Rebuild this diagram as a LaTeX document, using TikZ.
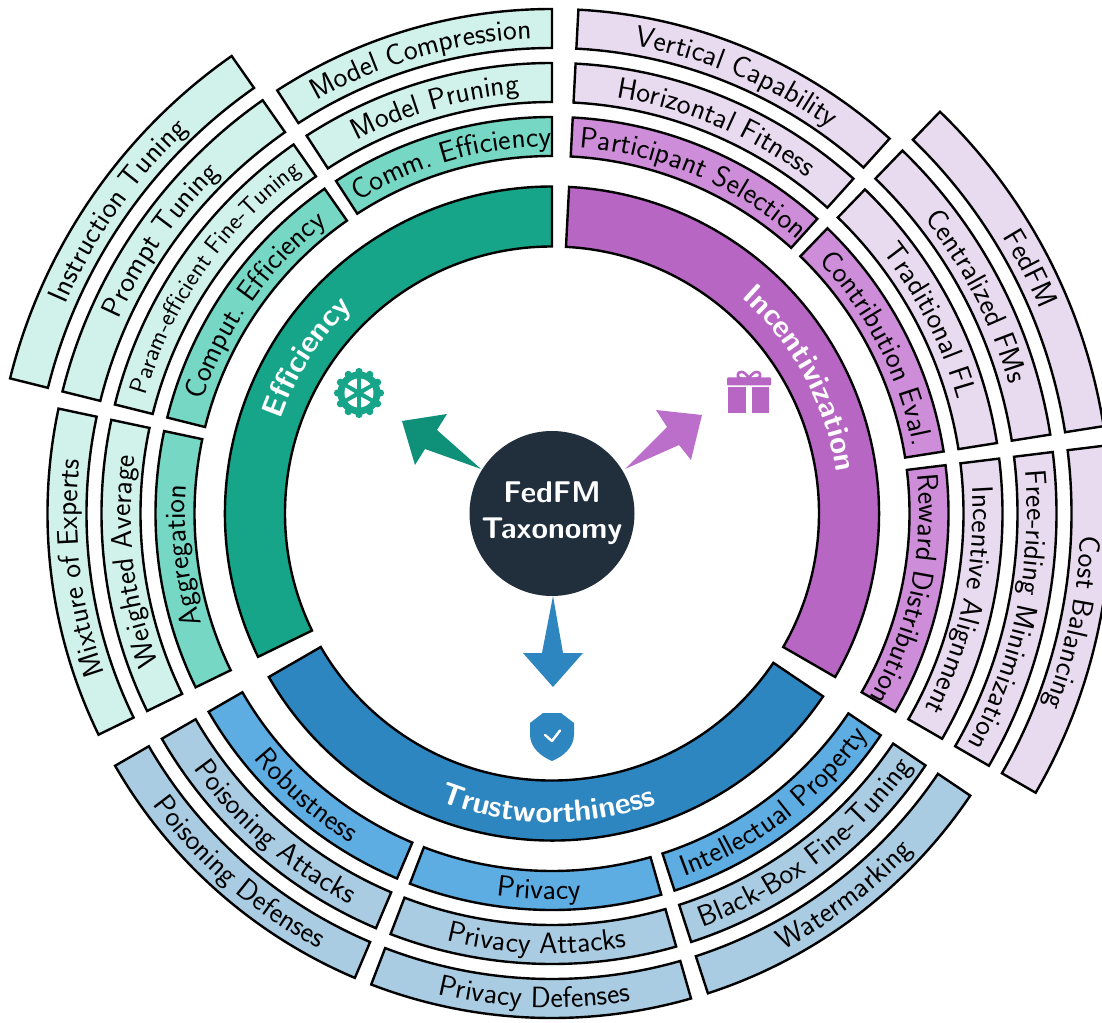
\documentclass[tikz,border=0pt]{standalone}
\usetikzlibrary{decorations.text}
\definecolor{gMain}{HTML}{17A589}
\definecolor{gMid}{HTML}{76D7C4}
\definecolor{gPale}{HTML}{D1F2EB}
\definecolor{gArrow}{HTML}{0F9078}
\definecolor{pMain}{HTML}{B766C4}
\definecolor{pMid}{HTML}{CE8DD8}
\definecolor{pPale}{HTML}{E8DAEF}
\definecolor{pArrow}{HTML}{BB6FCB}
\definecolor{bMain}{HTML}{2E86C1}
\definecolor{bMid}{HTML}{5DADE2}
\definecolor{bPale}{HTML}{A9CCE3}
\definecolor{hubCol}{HTML}{212F3D}
\tikzset{sectbox/.style={draw=black,line width=2.4pt,line join=miter}}
\newcommand\ringsect[5]{\draw[sectbox,fill=#5] (#3:#1pt) arc[start angle=#3,end angle=#4,radius=#1pt] -- (#4:#2pt) arc[start angle=#4,end angle=#3,radius=#2pt] -- cycle;}
\newcommand\rfont{\sffamily\fontsize{29.5}{33}\selectfont}
\newcommand\rsmall{\sffamily\fontsize{25}{29}\selectfont}
\newcommand\mfont{\sffamily\bfseries\fontsize{30.5}{34}\selectfont}
% baseline radius, start angle, end angle, text
\newcommand\arclabel[4]{\path[decorate,decoration={text along path,text align={align=center,left indent=7pt},text={|\rfont|#4}}] (#2:#1pt) arc[start angle=#2,end angle=#3,radius=#1pt];}
\newcommand\arcsmall[4]{\path[decorate,decoration={text along path,text align={align=center,left indent=7pt},text={|\rsmall|#4}}] (#2:#1pt) arc[start angle=#2,end angle=#3,radius=#1pt];}
\newcommand\arcmain[4]{\path[decorate,decoration={text along path,text align=center,text color=white,text={|\mfont|#4}}] (#2:#1pt) arc[start angle=#2,end angle=#3,radius=#1pt];}
\begin{document}
\begin{tikzpicture}[x=1pt,y=1pt]
\clip (-552,-508.5) rectangle (550,513.5);
\fill[white] (-552,-508.5) rectangle (550,513.5);
% main sectors
\ringsect{267}{327}{90}{206}{gMain}
\ringsect{267}{327}{87}{-30}{pMain}
\ringsect{267}{327}{-34}{-150}{bMain}
% green rings
\ringsect{357.5}{396.5}{90}{123}{gMid}
\ringsect{357.5}{396.5}{125}{166}{gMid}
\ringsect{357.5}{396.5}{168}{206}{gMid}
\ringsect{411.5}{450.5}{90}{123}{gPale}
\ringsect{411.5}{450.5}{125}{166}{gPale}
\ringsect{411.5}{450.5}{168}{206}{gPale}
\ringsect{465.5}{504.5}{90}{123}{gPale}
\ringsect{465.5}{504.5}{125}{166}{gPale}
\ringsect{465.5}{504.5}{168}{206}{gPale}
\ringsect{519.5}{558.5}{125}{166}{gPale}
% purple rings
\ringsect{357.5}{396.5}{87}{48}{pMid}
\ringsect{357.5}{396.5}{46}{9}{pMid}
\ringsect{357.5}{396.5}{7}{-30}{pMid}
\ringsect{411.5}{450.5}{87}{48}{pPale}
\ringsect{411.5}{450.5}{46}{9}{pPale}
\ringsect{411.5}{450.5}{7}{-30}{pPale}
\ringsect{465.5}{504.5}{87}{48}{pPale}
\ringsect{465.5}{504.5}{46}{9}{pPale}
\ringsect{465.5}{504.5}{7}{-30}{pPale}
\ringsect{519.5}{558.5}{46}{9}{pPale}
\ringsect{519.5}{558.5}{7}{-30}{pPale}
% blue rings
\ringsect{357.5}{396.5}{210}{247}{bMid}
\ringsect{357.5}{396.5}{249}{286}{bMid}
\ringsect{357.5}{396.5}{288}{326}{bMid}
\ringsect{411.5}{450.5}{210}{247}{bPale}
\ringsect{411.5}{450.5}{249}{286}{bPale}
\ringsect{411.5}{450.5}{288}{326}{bPale}
\ringsect{465.5}{504.5}{210}{247}{bPale}
\ringsect{465.5}{504.5}{249}{286}{bPale}
\ringsect{465.5}{504.5}{288}{326}{bPale}
% main labels
\arcmain{287}{205}{90}{Efficiency}
\arcmain{287}{87}{-30}{Incentivization}
\arcmain{309}{210}{328.5}{Trustworthiness}
% green labels
\arclabel{367}{123}{90}{Comm. Efficiency}
\arclabel{421}{123}{90}{Model Pruning}
\arclabel{475}{123}{90}{Model Compression}
\arclabel{367}{166}{125}{Comput. Efficiency}
\arcsmall{423}{166}{125}{Param-efficient Fine-Tuning}
\arclabel{475}{166}{125}{Prompt Tuning}
\arclabel{529}{166}{125}{Instruction Tuning}
\arclabel{367}{206}{168}{Aggregation}
\arclabel{421}{206}{168}{Weighted Average}
\arclabel{475}{206}{168}{Mixture of Experts}
% purple labels
\arclabel{367}{87}{48}{Participant Selection}
\arclabel{421}{87}{48}{Horizontal Fitness}
\arclabel{475}{87}{48}{Vertical Capability}
\arclabel{367}{46}{9}{Contribution Eval.}
\arclabel{421}{46}{9}{Traditional FL}
\arclabel{475}{46}{9}{Centralized FMs}
\arclabel{529}{46}{9}{FedFM}
\arclabel{367}{7}{-30}{Reward Distribution}
\arclabel{421}{7}{-30}{Incentive Alignment}
\arclabel{475}{7}{-30}{Free-riding Minimization}
\arclabel{529}{7}{-30}{Cost Balancing}
% blue labels
\arclabel{386}{210}{247}{Robustness}
\arclabel{386}{249}{286}{Privacy}
\arclabel{386}{288}{326}{Intellectual Property}
\arclabel{440}{210}{247}{Poisoning Attacks}
\arclabel{440}{249}{286}{Privacy Attacks}
\arclabel{440}{288}{326}{Black-Box Fine-Tuning}
\arclabel{494}{210}{247}{Poisoning Defenses}
\arclabel{494}{249}{286}{Privacy Defenses}
\arclabel{494}{288}{326}{Watermarking}
% arrows from the hub
\fill[gArrow] (-71,44.5) -- (-115,83.5) -- (-105,99.5) -- (-150,92.5) -- (-137,48.5) -- (-127,64.5) -- cycle;
\fill[pArrow] (73,44.5) -- (115,86.5) -- (104,103.5) -- (150,98.5) -- (139,53.5) -- (127,68.5) -- cycle;
\fill[bMain] (1,-82.5) -- (11,-139.5) -- (31,-139.5) -- (1,-173.5) -- (-29,-139.5) -- (-10,-139.5) -- cycle;
% hub
\node[circle,fill=hubCol,minimum size=165pt,inner sep=0pt,text=white,align=center,font=\sffamily\bfseries\fontsize{30}{36}\selectfont] (hub) at (0,0) {FedFM\\Taxonomy};
% gear icon
\begin{scope}[shift={(-193,120.5)}]
\foreach \a in {0,30,...,330}{\fill[gMain] (\a:21.5) circle[radius=3.6];}
\fill[gMain] (0,0) circle[radius=21.5];
\foreach \a in {0,60,...,300}{\fill[white] (\a:4.5) -- (\a+22:14.5) arc[start angle=\a+22,end angle=\a-22,radius=14.5] -- cycle;}
\end{scope}
% gift icon
\begin{scope}[shift={(200,135)}]
\fill[pMain] (-24,-35) rectangle (-6,-9);
\fill[pMain] (0,-35) rectangle (17,-9);
\fill[pMain,rounded corners=1pt] (-25,-7) rectangle (19,1);
\draw[pMain,line width=2.6pt] (-3,0) .. controls (-7,8) and (-15,9) .. (-14,2) .. controls (-13,-1) and (-7,0) .. (-3,0) .. controls (1,0) and (7,-1) .. (8,2) .. controls (9,9) and (1,8) .. (-3,0);
\end{scope}
% shield icon
\fill[bMain] (-9,-199.5) -- (9,-199.5) -- (22,-209.5) -- (22,-221) .. controls (22,-234) and (11,-243) .. (0,-247.5) .. controls (-11,-243) and (-22,-234) .. (-22,-221) -- (-22,-209.5) -- cycle;
\draw[white,line width=2.4pt,line cap=round,line join=round] (-7,-221.5) -- (0,-227.5) -- (8,-217);
\end{tikzpicture}
\end{document}
